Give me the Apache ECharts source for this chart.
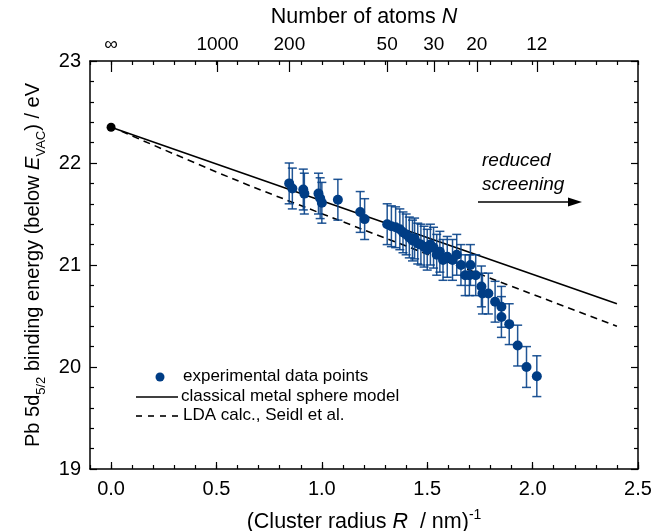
<!DOCTYPE html>
<html>
<head>
<meta charset="utf-8">
<script src="https://cdn.jsdelivr.net/npm/echarts@6/dist/echarts.min.js"></script>
<style>
html,body{margin:0;padding:0;background:#fff;}
#c{width:662px;height:531px;}
</style>
</head>
<body>
<div id="c"></div>
<script>
// ---- data ----
var expX = [0.845,0.860,0.912,0.917,0.984,0.992,1.000,1.076,1.182,1.203,
            1.310,1.330,1.350,1.370,1.385,1.400,1.415,1.430,1.440,1.455,
            1.470,1.485,1.500,1.515,1.530,1.545,1.560,1.575,1.595,1.620,
            1.640,1.660,1.680,1.700,1.705,1.730,1.757,1.762,1.790,1.822,
            1.852,1.852,1.889,1.929,1.971,2.020];
var expY = [21.80,21.75,21.74,21.70,21.70,21.655,21.61,21.64,21.52,21.45,
            21.40,21.38,21.37,21.35,21.32,21.30,21.27,21.24,21.26,21.21,
            21.20,21.18,21.15,21.20,21.17,21.10,21.13,21.05,21.08,21.05,
            21.10,21.00,20.90,20.90,21.00,20.90,20.79,20.72,20.72,20.64,
            20.59,20.49,20.42,20.21,20.00,19.91];
var expErr = [0.20,0.20,0.20,0.20,0.20,0.20,0.20,0.20,0.20,0.20,
              0.20,0.20,0.20,0.20,0.20,0.20,0.20,0.20,0.20,0.20,
              0.20,0.20,0.20,0.20,0.20,0.20,0.20,0.20,0.20,0.20,
              0.20,0.20,0.20,0.20,0.20,0.20,0.20,0.20,0.20,0.20,
              0.20,0.20,0.20,0.20,0.20,0.20];
var bulkPoint = [0, 22.35];
var classicalX = [0, 2.4];
var classicalY = [22.35, 20.62];
var ldaX = [0.05, 0.68, 2.4];
var ldaY = [22.31, 21.76, 20.40];
var bottomTicks = [0, 0.5, 1.0, 1.5, 2.0, 2.5];
var topTickPos = [0, 0.505, 0.846, 1.31, 1.531, 1.735, 2.02];
var topTickLabels = ['\u221E', '1000', '200', '50', '30', '20', '12'];
var legendLabels = ['experimental data points', 'classical metal sphere model', 'LDA calc., Seidl et al.'];

var FONT = 'Liberation Sans, Arial, sans-serif';
var DOT = '#003d85';
var BAR = 'rgba(8,66,138,0.9)';

function zip(a, b) { return a.map(function (v, i) { return [v, b[i]]; }); }

var chart = echarts.init(document.getElementById('c'), null, {renderer: 'canvas'});

var grid = {left: 90, right: 24, top: 61, bottom: 62, containLabel: false, outerBoundsMode: 'none'};

var minorXAxis = function (pos) {
  return {
    type: 'value', position: pos, min: -0.1, max: 2.5, interval: 0.1,
    axisLine: {show: false}, splitLine: {show: false},
    axisTick: {show: true, inside: true, length: 4, lineStyle: {color: '#000', width: 1.2}},
    axisLabel: {show: false}
  };
};

var option = {
  animation: false,
  backgroundColor: '#fff',
  grid: grid,
  xAxis: [
    {
      type: 'value', position: 'bottom', min: -0.1, max: 2.5,
      axisLine: {show: true, onZero: false, lineStyle: {color: '#000', width: 1.5}},
      splitLine: {show: false},
      axisTick: {show: true, inside: true, length: 7, customValues: bottomTicks, lineStyle: {color: '#000', width: 1.2}},
      axisLabel: {show: true, customValues: bottomTicks, margin: 10, color: '#000', fontSize: 20, fontFamily: FONT,
        formatter: function (v) { return v.toFixed(1); }},
      name: '{n|(Cluster radius }{i|R}{n|  / nm)}{sup|-1}',
      nameLocation: 'middle', nameGap: 39,
      nameTextStyle: {rich: {
        n: {fontSize: 21.5, fontFamily: FONT, color: '#000', lineHeight: 28},
        i: {fontSize: 21.5, fontFamily: FONT, fontStyle: 'italic', color: '#000', lineHeight: 28},
        sup: {fontSize: 14, fontFamily: FONT, color: '#000', verticalAlign: 'top', lineHeight: 14}
      }}
    },
    minorXAxis('bottom'),
    minorXAxis('top'),
    {
      type: 'value', position: 'top', min: -0.1, max: 2.5,
      axisLine: {show: true, onZero: false, lineStyle: {color: '#000', width: 1.5}},
      splitLine: {show: false},
      axisTick: {show: true, inside: true, length: 11, customValues: topTickPos, lineStyle: {color: '#000', width: 1.2}},
      axisLabel: {show: true, customValues: topTickPos, margin: 7, color: '#000', fontSize: 19, fontFamily: FONT,
        formatter: function (v) {
          var i = topTickPos.indexOf(v);
          return i >= 0 ? topTickLabels[i] : '';
        }},
      name: '{n|Number of atoms }{i|N}',
      nameLocation: 'middle', nameGap: 33,
      nameTextStyle: {rich: {
        n: {fontSize: 21.5, fontFamily: FONT, color: '#000'},
        i: {fontSize: 21.5, fontFamily: FONT, fontStyle: 'italic', color: '#000'}
      }}
    }
  ],
  yAxis: [
    {
      type: 'value', position: 'left', min: 19, max: 23, interval: 1,
      axisLine: {show: true, onZero: false, lineStyle: {color: '#000', width: 1.5}},
      splitLine: {show: false},
      axisTick: {show: true, inside: true, length: 7, lineStyle: {color: '#000', width: 1.2}},
      minorTick: {show: true, splitNumber: 5, length: 4, lineStyle: {color: '#000', width: 1.2}},
      axisLabel: {show: true, margin: 9, color: '#000', fontSize: 20, fontFamily: FONT},
      name: '{n|Pb 5d}{sub|5/2}{n| binding energy (below }{i|E}{sub|VAC}{n|) / eV}',
      nameLocation: 'middle', nameGap: 42, nameRotate: 90,
      nameTextStyle: {rich: {
        n: {fontSize: 20, fontFamily: FONT, color: '#000', lineHeight: 28},
        i: {fontSize: 20, fontFamily: FONT, fontStyle: 'italic', color: '#000', lineHeight: 28},
        sub: {fontSize: 13, fontFamily: FONT, color: '#000', verticalAlign: 'bottom', lineHeight: 14}
      }}
    },
    {
      type: 'value', position: 'right', min: 19, max: 23, interval: 1,
      axisLine: {show: true, onZero: false, lineStyle: {color: '#000', width: 1.5}},
      splitLine: {show: false},
      axisTick: {show: true, inside: true, length: 7, lineStyle: {color: '#000', width: 1.2}},
      minorTick: {show: true, splitNumber: 5, length: 4, lineStyle: {color: '#000', width: 1.2}},
      axisLabel: {show: false}
    }
  ],
  series: [
    {
      name: legendLabels[1], type: 'line', xAxisIndex: 0, yAxisIndex: 0,
      data: zip(classicalX, classicalY), showSymbol: false, symbol: 'none',
      lineStyle: {color: '#000', width: 1.6}, z: 2
    },
    {
      name: legendLabels[2], type: 'line', xAxisIndex: 0, yAxisIndex: 0,
      data: zip(ldaX, ldaY), showSymbol: false, symbol: 'none', smooth: 0.3,
      lineStyle: {color: '#000', width: 1.6, type: [7, 5]}, z: 2
    },
    {
      name: 'bulk', type: 'scatter', xAxisIndex: 0, yAxisIndex: 0,
      data: [bulkPoint], symbol: 'circle', symbolSize: 9,
      itemStyle: {color: '#000', opacity: 1}, z: 4
    },
    {
      name: 'errors', type: 'custom', xAxisIndex: 0, yAxisIndex: 0,
      data: expX.map(function (x, i) { return [x, expY[i], expErr[i]]; }),
      encode: {x: 0, y: 1},
      renderItem: function (params, api) {
        var x = api.value(0), y = api.value(1), e = api.value(2);
        var t = api.coord([x, y + e]), b = api.coord([x, y - e]);
        var hw = 4.5;
        var st = {stroke: BAR, lineWidth: 1.5};
        return {type: 'group', children: [
          {type: 'line', shape: {x1: t[0], y1: t[1], x2: b[0], y2: b[1]}, style: st},
          {type: 'line', shape: {x1: t[0] - hw, y1: t[1], x2: t[0] + hw, y2: t[1]}, style: st},
          {type: 'line', shape: {x1: b[0] - hw, y1: b[1], x2: b[0] + hw, y2: b[1]}, style: st}
        ]};
      },
      z: 3
    },
    {
      name: legendLabels[0], type: 'scatter', xAxisIndex: 0, yAxisIndex: 0,
      data: zip(expX, expY), symbol: 'circle', symbolSize: 10,
      itemStyle: {color: DOT, opacity: 1}, z: 5
    }
  ],
  graphic: [
    {type: 'circle', shape: {cx: 160, cy: 377, r: 4.5}, style: {fill: DOT}},
    {type: 'text', left: 183, top: 368, style: {text: legendLabels[0], fontSize: 17, fontFamily: FONT, fill: '#000'}},
    {type: 'line', shape: {x1: 136, y1: 397, x2: 178, y2: 397}, style: {stroke: '#000', lineWidth: 1.6}},
    {type: 'text', left: 181, top: 388, style: {text: legendLabels[1], fontSize: 17, fontFamily: FONT, fill: '#000'}},
    {type: 'line', shape: {x1: 136, y1: 416, x2: 178, y2: 416}, style: {stroke: '#000', lineWidth: 1.6, lineDash: [6, 6]}},
    {type: 'text', left: 183, top: 407, style: {text: legendLabels[2], fontSize: 17, fontFamily: FONT, fill: '#000'}},
    {type: 'text', left: 482, top: 149, style: {text: 'reduced\nscreening', fontSize: 19, lineHeight: 24, fontStyle: 'italic', fontFamily: FONT, fill: '#000'}},
    {type: 'line', shape: {x1: 478, y1: 202, x2: 572, y2: 202}, style: {stroke: '#000', lineWidth: 1.5}},
    {type: 'polygon', shape: {points: [[582, 202], [568, 197.5], [568, 206.5]]}, style: {fill: '#000'}}
  ]
};
chart.setOption(option);
</script>
</body>
</html>
